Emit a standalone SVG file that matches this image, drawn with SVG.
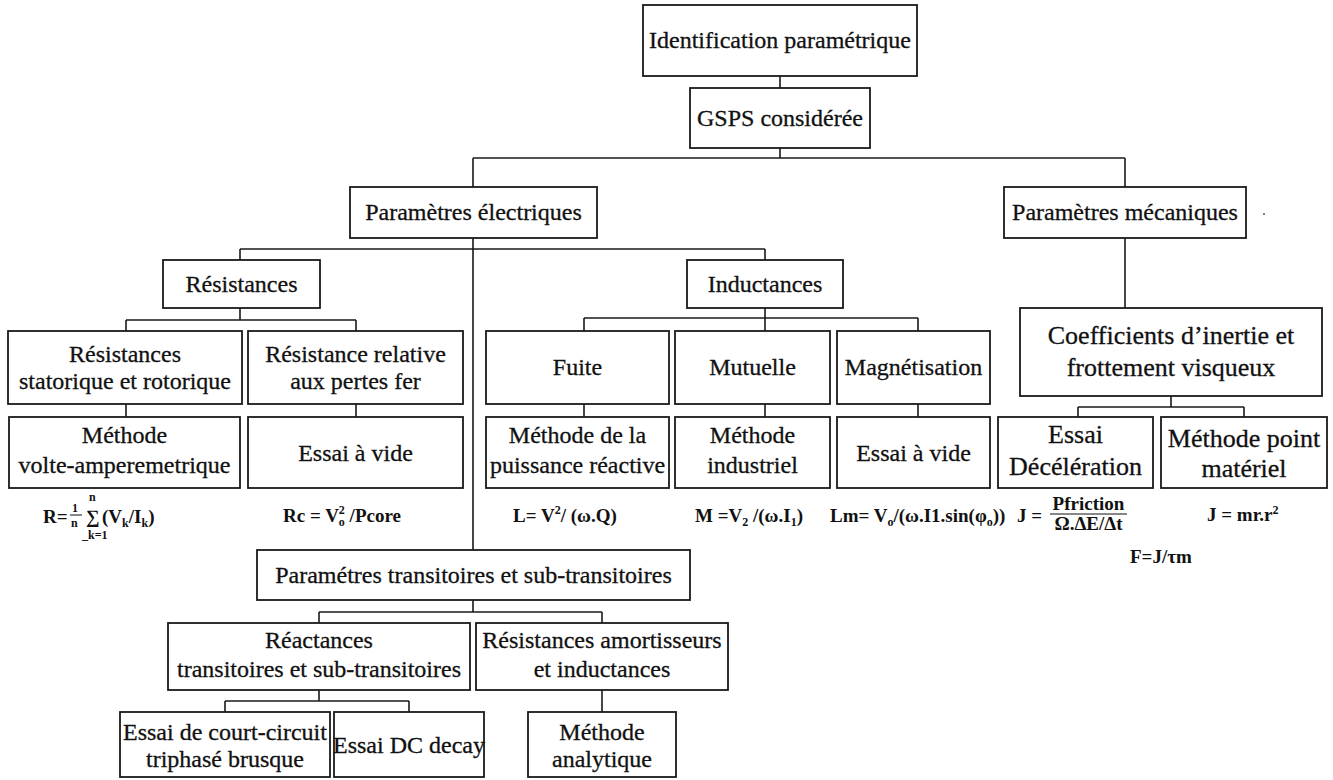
<svg xmlns="http://www.w3.org/2000/svg" width="1333" height="780" viewBox="0 0 1333 780">
  <style>
    .box { fill: #ffffff; stroke: #1a1a1a; stroke-width: 1.8; }
    .lbl { font-family: "Liberation Serif", "Times New Roman", serif; font-size: 24px; fill: #111; stroke: #111; stroke-width: 0.3px; text-anchor: middle; }
    .big { font-size: 26px; }
    .eq { font-family: "Liberation Serif", "Times New Roman", serif; font-size: 19px; font-weight: bold; fill: #111; }
    .eqs { font-size: 12px; }
    .wire { fill: none; stroke: #1a1a1a; stroke-width: 1.6; }
  </style>
  <rect width="1333" height="780" fill="#ffffff"/>

  <!-- connectors -->
  <g id="connectors" class="wire">
    <path d="M780 76 V88"/>
    <path d="M780 148 V158 M473 158 H1125 M473 158 V187 M1125 158 V187"/>
    <path d="M473 238 V550 M240 249 H765 M240 249 V260 M765 249 V260"/>
    <path d="M240 308 V320 M126 320 H356 M126 320 V331 M356 320 V331"/>
    <path d="M126 404 V417 M356 404 V417"/>
    <path d="M765 308 V318 M584 318 H918 M584 318 V331 M765 318 V331 M918 318 V331"/>
    <path d="M584 404 V417 M765 404 V417 M918 404 V417"/>
    <path d="M1125 238 V308"/>
    <path d="M1171 396 V407 M1078 407 H1244 M1078 407 V417 M1244 407 V417"/>
    <path d="M473 600 V612 M319 612 H602 M319 612 V623 M602 612 V623"/>
    <path d="M319 690 V701 M225 701 H409 M225 701 V712 M409 701 V712"/>
    <path d="M602 690 V712"/>
  </g>

  <g id="n-identification">
    <rect class="box" x="643" y="5" width="274" height="71"/>
    <text class="lbl" x="780" y="48">Identification paramétrique</text>
  </g>
  <g id="n-gsps">
    <rect class="box" x="690" y="88" width="180" height="60"/>
    <text class="lbl" x="780" y="126">GSPS considérée</text>
  </g>
  <g id="n-param-elec">
    <rect class="box" x="350" y="187" width="247" height="51"/>
    <text class="lbl" x="473.5" y="220">Paramètres électriques</text>
  </g>
  <g id="n-param-meca">
    <rect class="box" x="1004" y="187" width="242" height="51"/>
    <text class="lbl" x="1125" y="220">Paramètres mécaniques</text>
  </g>
  <circle cx="1264" cy="214" r="1" fill="#555"/>

  <g id="n-resistances">
    <rect class="box" x="163" y="260" width="157" height="48"/>
    <text class="lbl" x="241.5" y="292">Résistances</text>
  </g>
  <g id="n-inductances">
    <rect class="box" x="687" y="260" width="156" height="48"/>
    <text class="lbl" x="765" y="292">Inductances</text>
  </g>

  <g id="n-res-stat-rot">
    <rect class="box" x="8" y="331" width="234" height="73"/>
    <text class="lbl" x="125" y="362">Résistances</text>
    <text class="lbl" x="125" y="389">statorique et rotorique</text>
  </g>
  <g id="n-res-fer">
    <rect class="box" x="248" y="331" width="215" height="73"/>
    <text class="lbl" x="355.5" y="362">Résistance relative</text>
    <text class="lbl" x="355.5" y="389">aux pertes fer</text>
  </g>
  <g id="n-fuite">
    <rect class="box" x="486" y="331" width="183" height="73"/>
    <text class="lbl" x="577.5" y="375">Fuite</text>
  </g>
  <g id="n-mutuelle">
    <rect class="box" x="675" y="331" width="155" height="73"/>
    <text class="lbl" x="752.5" y="375">Mutuelle</text>
  </g>
  <g id="n-magnetisation">
    <rect class="box" x="837" y="331" width="153" height="73"/>
    <text class="lbl" x="913.5" y="375">Magnétisation</text>
  </g>
  <g id="n-coefficients">
    <rect class="box" x="1020" y="308" width="302" height="88"/>
    <text class="lbl big" x="1171" y="344">Coefficients d’inertie et</text>
    <text class="lbl big" x="1171" y="376">frottement visqueux</text>
  </g>

  <g id="n-volte-amp">
    <rect class="box" x="9" y="417" width="231" height="71"/>
    <text class="lbl" x="124.5" y="443">Méthode</text>
    <text class="lbl" x="124.5" y="473">volte-amperemetrique</text>
  </g>
  <g id="n-essai-vide-1">
    <rect class="box" x="248" y="417" width="215" height="71"/>
    <text class="lbl" x="355.5" y="461">Essai à vide</text>
  </g>
  <g id="n-puissance-reactive">
    <rect class="box" x="486" y="417" width="183" height="71"/>
    <text class="lbl" x="577.5" y="443">Méthode de la</text>
    <text class="lbl" x="577.5" y="473">puissance réactive</text>
  </g>
  <g id="n-industriel">
    <rect class="box" x="675" y="417" width="155" height="71"/>
    <text class="lbl" x="752.5" y="443">Méthode</text>
    <text class="lbl" x="752.5" y="473">industriel</text>
  </g>
  <g id="n-essai-vide-2">
    <rect class="box" x="837" y="417" width="153" height="71"/>
    <text class="lbl" x="913.5" y="461">Essai à vide</text>
  </g>
  <g id="n-deceleration">
    <rect class="box" x="998" y="417" width="155" height="71"/>
    <text class="lbl big" x="1075.5" y="443">Essai</text>
    <text class="lbl big" x="1075.5" y="475">Décélération</text>
  </g>
  <g id="n-point-materiel">
    <rect class="box" x="1161" y="417" width="166" height="71"/>
    <text class="lbl big" x="1244" y="447">Méthode point</text>
    <text class="lbl big" x="1244" y="477">matériel</text>
  </g>

  <!-- formulas -->
  <g id="formulas" class="eq">
    <text x="43" y="523">R=</text>
    <text x="72" y="512" class="eqs">1</text>
    <line x1="70" y1="515" x2="82" y2="515" stroke="#111" stroke-width="1"/>
    <text x="71" y="527" class="eqs">n</text>
    <text x="86" y="523">∑</text>
    <text x="89" y="501" class="eqs">n</text>
    <text x="82" y="539" class="eqs">_k=1</text>
    <text x="102" y="523">(V<tspan class="eqs" dy="4">k</tspan><tspan dy="-4">/I</tspan><tspan class="eqs" dy="4">k</tspan><tspan dy="-4">)</tspan></text>

    <text x="283" y="522">Rc = V<tspan class="eqs" dy="4">o</tspan><tspan class="eqs" dx="-6" dy="-12">2</tspan><tspan dy="8"> /Pcore</tspan></text>

    <text x="513" y="522">L= V<tspan class="eqs" dy="-8">2</tspan><tspan dy="8">/ (ω.Q)</tspan></text>

    <text x="695" y="522">M =V<tspan class="eqs" dy="4">2</tspan><tspan dy="-4"> /(ω.I</tspan><tspan class="eqs" dy="4">1</tspan><tspan dy="-4">)</tspan></text>

    <text x="830" y="522">Lm= V<tspan class="eqs" dy="4">o</tspan><tspan dy="-4">/(ω.I1.sin(φ</tspan><tspan class="eqs" dy="4">o</tspan><tspan dy="-4">))</tspan></text>

    <text x="1017" y="522">J =</text>
    <text x="1088.5" y="510" text-anchor="middle">Pfriction</text>
    <line x1="1050" y1="514" x2="1127" y2="514" stroke="#111" stroke-width="1.2"/>
    <text x="1088.5" y="530" text-anchor="middle">Ω.ΔE/Δt</text>

    <text x="1207" y="521">J = mr.r<tspan class="eqs" dy="-7">2</tspan></text>
    <text x="1130" y="563">F=J/τm</text>
  </g>

  <g id="n-param-trans">
    <rect class="box" x="257" y="550" width="433" height="50"/>
    <text class="lbl" x="473.5" y="583">Paramétres transitoires et sub-transitoires</text>
  </g>
  <g id="n-reactances">
    <rect class="box" x="168" y="623" width="302" height="67"/>
    <text class="lbl" x="319" y="648">Réactances</text>
    <text class="lbl" x="319" y="677">transitoires et sub-transitoires</text>
  </g>
  <g id="n-res-amort">
    <rect class="box" x="476" y="623" width="252" height="67"/>
    <text class="lbl" x="602" y="648">Résistances amortisseurs</text>
    <text class="lbl" x="602" y="677">et inductances</text>
  </g>
  <g id="n-court-circuit">
    <rect class="box" x="120" y="712" width="210" height="65"/>
    <text class="lbl" x="225" y="740">Essai de court-circuit</text>
    <text class="lbl" x="225" y="767">triphasé brusque</text>
  </g>
  <g id="n-dc-decay">
    <rect class="box" x="334" y="712" width="150" height="65"/>
    <text class="lbl" x="409" y="753">Essai DC decay</text>
  </g>
  <g id="n-analytique">
    <rect class="box" x="528" y="712" width="148" height="65"/>
    <text class="lbl" x="602" y="740">Méthode</text>
    <text class="lbl" x="602" y="767">analytique</text>
  </g>
</svg>
